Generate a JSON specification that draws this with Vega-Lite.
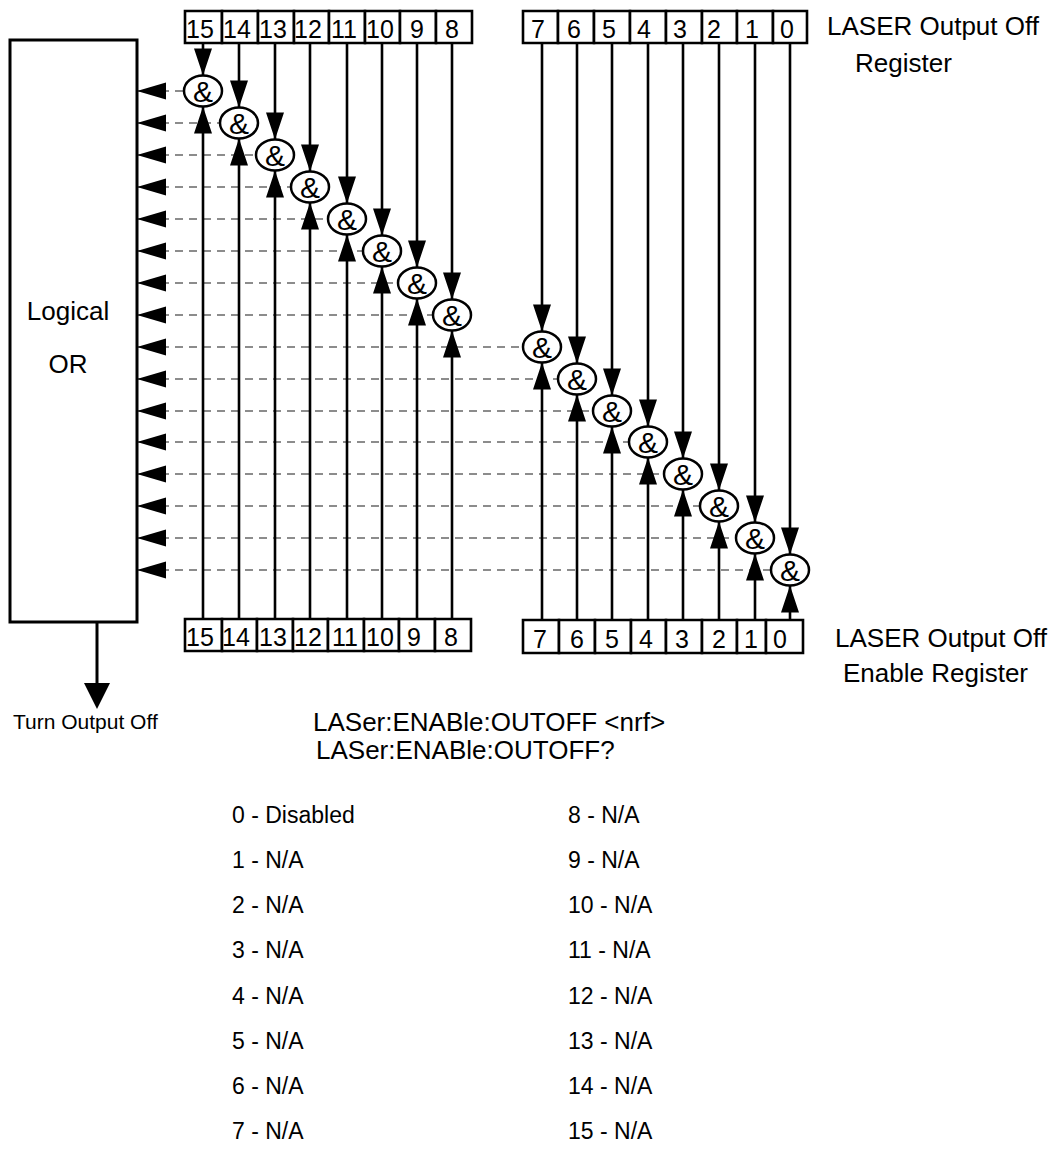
{
  "$schema": "https://vega.github.io/schema/vega-lite/v6.json",
  "width": 1057,
  "height": 1153,
  "autosize": {"type": "fit", "contains": "padding"},
  "padding": 0,
  "background": "white",
  "config": {"view": {"stroke": null}, "font": "Liberation Sans"},
  "datasets": {
    "bits": [
      {"bit": 15, "x": 203, "y": 91, "x0": 133, "ytop": 43, "ybot": 620, "xa": 137},
      {"bit": 14, "x": 239, "y": 123, "x0": 133, "ytop": 43, "ybot": 620, "xa": 137},
      {"bit": 13, "x": 275, "y": 155, "x0": 133, "ytop": 43, "ybot": 620, "xa": 137},
      {"bit": 12, "x": 310, "y": 187, "x0": 133, "ytop": 43, "ybot": 620, "xa": 137},
      {"bit": 11, "x": 347, "y": 219, "x0": 133, "ytop": 43, "ybot": 620, "xa": 137},
      {"bit": 10, "x": 382, "y": 251, "x0": 133, "ytop": 43, "ybot": 620, "xa": 137},
      {"bit": 9, "x": 417, "y": 283, "x0": 133, "ytop": 43, "ybot": 620, "xa": 137},
      {"bit": 8, "x": 452, "y": 315, "x0": 133, "ytop": 43, "ybot": 620, "xa": 137},
      {"bit": 7, "x": 542, "y": 347, "x0": 133, "ytop": 43, "ybot": 620, "xa": 137},
      {"bit": 6, "x": 577, "y": 379, "x0": 133, "ytop": 43, "ybot": 620, "xa": 137},
      {"bit": 5, "x": 612, "y": 411, "x0": 133, "ytop": 43, "ybot": 620, "xa": 137},
      {"bit": 4, "x": 648, "y": 442, "x0": 133, "ytop": 43, "ybot": 620, "xa": 137},
      {"bit": 3, "x": 683, "y": 474, "x0": 133, "ytop": 43, "ybot": 620, "xa": 137},
      {"bit": 2, "x": 719, "y": 506, "x0": 133, "ytop": 43, "ybot": 620, "xa": 137},
      {"bit": 1, "x": 755, "y": 538, "x0": 133, "ytop": 43, "ybot": 620, "xa": 137},
      {"bit": 0, "x": 790, "y": 570, "x0": 133, "ytop": 43, "ybot": 620, "xa": 137}
    ],
    "cells": [
      {"label": "15", "x1": 185, "x2": 222, "y1": 11, "y2": 43, "tx": 200},
      {"label": "14", "x1": 222, "x2": 258, "y1": 11, "y2": 43, "tx": 237},
      {"label": "13", "x1": 258, "x2": 294, "y1": 11, "y2": 43, "tx": 273},
      {"label": "12", "x1": 294, "x2": 329, "y1": 11, "y2": 43, "tx": 308},
      {"label": "11", "x1": 329, "x2": 365, "y1": 11, "y2": 43, "tx": 344},
      {"label": "10", "x1": 365, "x2": 400, "y1": 11, "y2": 43, "tx": 380},
      {"label": "9", "x1": 400, "x2": 436, "y1": 11, "y2": 43, "tx": 417},
      {"label": "8", "x1": 436, "x2": 472, "y1": 11, "y2": 43, "tx": 452},
      {"label": "7", "x1": 523, "x2": 558, "y1": 11, "y2": 43, "tx": 538},
      {"label": "6", "x1": 558, "x2": 594, "y1": 11, "y2": 43, "tx": 574},
      {"label": "5", "x1": 594, "x2": 630, "y1": 11, "y2": 43, "tx": 609},
      {"label": "4", "x1": 630, "x2": 666, "y1": 11, "y2": 43, "tx": 644},
      {"label": "3", "x1": 666, "x2": 702, "y1": 11, "y2": 43, "tx": 680},
      {"label": "2", "x1": 702, "x2": 737, "y1": 11, "y2": 43, "tx": 714},
      {"label": "1", "x1": 737, "x2": 773, "y1": 11, "y2": 43, "tx": 752},
      {"label": "0", "x1": 773, "x2": 807, "y1": 11, "y2": 43, "tx": 787},
      {"label": "15", "x1": 185, "x2": 222, "y1": 619, "y2": 651, "tx": 200},
      {"label": "14", "x1": 222, "x2": 257, "y1": 619, "y2": 651, "tx": 236},
      {"label": "13", "x1": 257, "x2": 293, "y1": 619, "y2": 651, "tx": 273},
      {"label": "12", "x1": 293, "x2": 328, "y1": 619, "y2": 651, "tx": 308},
      {"label": "11", "x1": 328, "x2": 364, "y1": 619, "y2": 651, "tx": 345},
      {"label": "10", "x1": 364, "x2": 399, "y1": 619, "y2": 651, "tx": 380},
      {"label": "9", "x1": 399, "x2": 435, "y1": 619, "y2": 651, "tx": 414},
      {"label": "8", "x1": 435, "x2": 471, "y1": 619, "y2": 651, "tx": 451},
      {"label": "7", "x1": 523, "x2": 559, "y1": 620, "y2": 653, "tx": 540},
      {"label": "6", "x1": 559, "x2": 595, "y1": 620, "y2": 653, "tx": 577},
      {"label": "5", "x1": 595, "x2": 631, "y1": 620, "y2": 653, "tx": 612},
      {"label": "4", "x1": 631, "x2": 666, "y1": 620, "y2": 653, "tx": 646},
      {"label": "3", "x1": 666, "x2": 702, "y1": 620, "y2": 653, "tx": 682},
      {"label": "2", "x1": 702, "x2": 737, "y1": 620, "y2": 653, "tx": 719},
      {"label": "1", "x1": 737, "x2": 766, "y1": 620, "y2": 653, "tx": 751},
      {"label": "0", "x1": 766, "x2": 803, "y1": 620, "y2": 653, "tx": 780}
    ],
    "labels": [
      {"text": "LASER Output Off", "x": 827, "y": 35, "style": "big"},
      {"text": "Register", "x": 855, "y": 72, "style": "big"},
      {"text": "LASER Output Off", "x": 835, "y": 647, "style": "big"},
      {"text": "Enable Register", "x": 843, "y": 682, "style": "big"},
      {"text": "LASer:ENABle:OUTOFF <nrf>", "x": 313, "y": 731, "style": "big"},
      {"text": "LASer:ENABle:OUTOFF?", "x": 316, "y": 759, "style": "big"},
      {"text": "Logical", "x": 68, "y": 320, "style": "center"},
      {"text": "OR", "x": 68, "y": 373, "style": "center"},
      {"text": "Turn Output Off", "x": 13, "y": 729, "style": "small"},
      {"text": "0 - Disabled", "x": 232, "y": 823, "style": "list"},
      {"text": "1 - N/A", "x": 232, "y": 868, "style": "list"},
      {"text": "2 - N/A", "x": 232, "y": 913, "style": "list"},
      {"text": "3 - N/A", "x": 232, "y": 958, "style": "list"},
      {"text": "4 - N/A", "x": 232, "y": 1004, "style": "list"},
      {"text": "5 - N/A", "x": 232, "y": 1049, "style": "list"},
      {"text": "6 - N/A", "x": 232, "y": 1094, "style": "list"},
      {"text": "7 - N/A", "x": 232, "y": 1139, "style": "list"},
      {"text": "8 - N/A", "x": 568, "y": 823, "style": "list"},
      {"text": "9 - N/A", "x": 568, "y": 868, "style": "list"},
      {"text": "10 - N/A", "x": 568, "y": 913, "style": "list"},
      {"text": "11 - N/A", "x": 568, "y": 958, "style": "list"},
      {"text": "12 - N/A", "x": 568, "y": 1004, "style": "list"},
      {"text": "13 - N/A", "x": 568, "y": 1049, "style": "list"},
      {"text": "14 - N/A", "x": 568, "y": 1094, "style": "list"},
      {"text": "15 - N/A", "x": 568, "y": 1139, "style": "list"}
    ]
  },
  "layer": [
    {
      "data": {"name": "bits"},
      "mark": {"type": "rule", "strokeDash": [8, 6], "strokeWidth": 1.2, "color": "#1a1a1a"},
      "encoding": {
        "x": {"field": "x0", "type": "quantitative", "scale": {"domain": [0, 1057], "nice": false, "zero": false}, "axis": null},
        "x2": {"field": "x"},
        "y": {"field": "y", "type": "quantitative", "scale": {"domain": [0, 1153], "reverse": true, "nice": false, "zero": false}, "axis": null}
      }
    },
    {
      "data": {"name": "bits"},
      "mark": {"type": "rule", "strokeWidth": 2.6, "color": "black"},
      "encoding": {
        "x": {"field": "x", "type": "quantitative", "axis": null},
        "y": {"field": "ytop", "type": "quantitative", "axis": null},
        "y2": {"field": "ybot"}
      }
    },
    {
      "data": {"values": [{"x1": 10, "x2": 137, "y1": 40, "y2": 622}]},
      "mark": {"type": "rect", "fill": "white", "stroke": "black", "strokeWidth": 3},
      "encoding": {
        "x": {"field": "x1", "type": "quantitative", "axis": null},
        "x2": {"field": "x2"},
        "y": {"field": "y1", "type": "quantitative", "axis": null},
        "y2": {"field": "y2"}
      }
    },
    {
      "data": {"name": "cells"},
      "mark": {"type": "rect", "fill": "white", "stroke": "black", "strokeWidth": 2.6},
      "encoding": {
        "x": {"field": "x1", "type": "quantitative", "axis": null},
        "x2": {"field": "x2"},
        "y": {"field": "y1", "type": "quantitative", "axis": null},
        "y2": {"field": "y2"}
      }
    },
    {
      "data": {"name": "cells"},
      "mark": {"type": "text", "fontSize": 25, "align": "center", "baseline": "alphabetic", "dy": -5, "color": "black"},
      "encoding": {
        "x": {"field": "tx", "type": "quantitative", "axis": null},
        "y": {"field": "y2", "type": "quantitative", "axis": null},
        "text": {"field": "label", "type": "nominal"}
      }
    },
    {
      "data": {"name": "bits"},
      "mark": {"type": "point", "shape": "M -0.72 -3.4 L 0.72 -3.4 L 0 -1.24 Z M -0.72 3.4 L 0.72 3.4 L 0 1.24 Z", "size": 625, "filled": true, "color": "black", "opacity": 1, "strokeWidth": 0},
      "encoding": {
        "x": {"field": "x", "type": "quantitative", "axis": null},
        "y": {"field": "y", "type": "quantitative", "axis": null}
      }
    },
    {
      "data": {"name": "bits"},
      "mark": {"type": "point", "shape": "M 1 0 C 1 0.4507 0.5523 0.816 0 0.816 C -0.5523 0.816 -1 0.4507 -1 0 C -1 -0.4507 -0.5523 -0.816 0 -0.816 C 0.5523 -0.816 1 -0.4507 1 0 Z", "size": 1444, "filled": true, "fill": "white", "stroke": "black", "strokeWidth": 2.5, "opacity": 1},
      "encoding": {
        "x": {"field": "x", "type": "quantitative", "axis": null},
        "y": {"field": "y", "type": "quantitative", "axis": null}
      }
    },
    {
      "data": {"name": "bits"},
      "mark": {"type": "text", "text": "&", "fontSize": 30, "align": "center", "baseline": "alphabetic", "dy": 11, "color": "black"},
      "encoding": {
        "x": {"field": "x", "type": "quantitative", "axis": null},
        "y": {"field": "y", "type": "quantitative", "axis": null}
      }
    },
    {
      "data": {"name": "bits"},
      "mark": {"type": "point", "shape": "M 0 0 L 3.41 -1 L 3.41 1 Z", "size": 289, "filled": true, "color": "black", "opacity": 1, "strokeWidth": 0},
      "encoding": {
        "x": {"field": "xa", "type": "quantitative", "axis": null},
        "y": {"field": "y", "type": "quantitative", "axis": null}
      }
    },
    {
      "data": {"values": [{"x": 97, "y1": 622, "y2": 690}]},
      "mark": {"type": "rule", "strokeWidth": 3, "color": "black"},
      "encoding": {
        "x": {"field": "x", "type": "quantitative", "axis": null},
        "y": {"field": "y1", "type": "quantitative", "axis": null},
        "y2": {"field": "y2"}
      }
    },
    {
      "data": {"values": [{"x": 97, "y": 709}]},
      "mark": {"type": "point", "shape": "M -1 -2 L 1 -2 L 0 0 Z", "size": 676, "filled": true, "color": "black", "opacity": 1, "strokeWidth": 0},
      "encoding": {
        "x": {"field": "x", "type": "quantitative", "axis": null},
        "y": {"field": "y", "type": "quantitative", "axis": null}
      }
    },
    {
      "data": {"name": "labels"},
      "transform": [{"filter": "datum.style === 'big'"}],
      "mark": {"type": "text", "fontSize": 26, "align": "left", "baseline": "alphabetic", "color": "black"},
      "encoding": {
        "x": {"field": "x", "type": "quantitative", "axis": null},
        "y": {"field": "y", "type": "quantitative", "axis": null},
        "text": {"field": "text", "type": "nominal"}
      }
    },
    {
      "data": {"name": "labels"},
      "transform": [{"filter": "datum.style === 'center'"}],
      "mark": {"type": "text", "fontSize": 26, "align": "center", "baseline": "alphabetic", "color": "black"},
      "encoding": {
        "x": {"field": "x", "type": "quantitative", "axis": null},
        "y": {"field": "y", "type": "quantitative", "axis": null},
        "text": {"field": "text", "type": "nominal"}
      }
    },
    {
      "data": {"name": "labels"},
      "transform": [{"filter": "datum.style === 'small'"}],
      "mark": {"type": "text", "fontSize": 21, "align": "left", "baseline": "alphabetic", "color": "black"},
      "encoding": {
        "x": {"field": "x", "type": "quantitative", "axis": null},
        "y": {"field": "y", "type": "quantitative", "axis": null},
        "text": {"field": "text", "type": "nominal"}
      }
    },
    {
      "data": {"name": "labels"},
      "transform": [{"filter": "datum.style === 'list'"}],
      "mark": {"type": "text", "fontSize": 23, "align": "left", "baseline": "alphabetic", "color": "black"},
      "encoding": {
        "x": {"field": "x", "type": "quantitative", "axis": null},
        "y": {"field": "y", "type": "quantitative", "axis": null},
        "text": {"field": "text", "type": "nominal"}
      }
    }
  ]
}
